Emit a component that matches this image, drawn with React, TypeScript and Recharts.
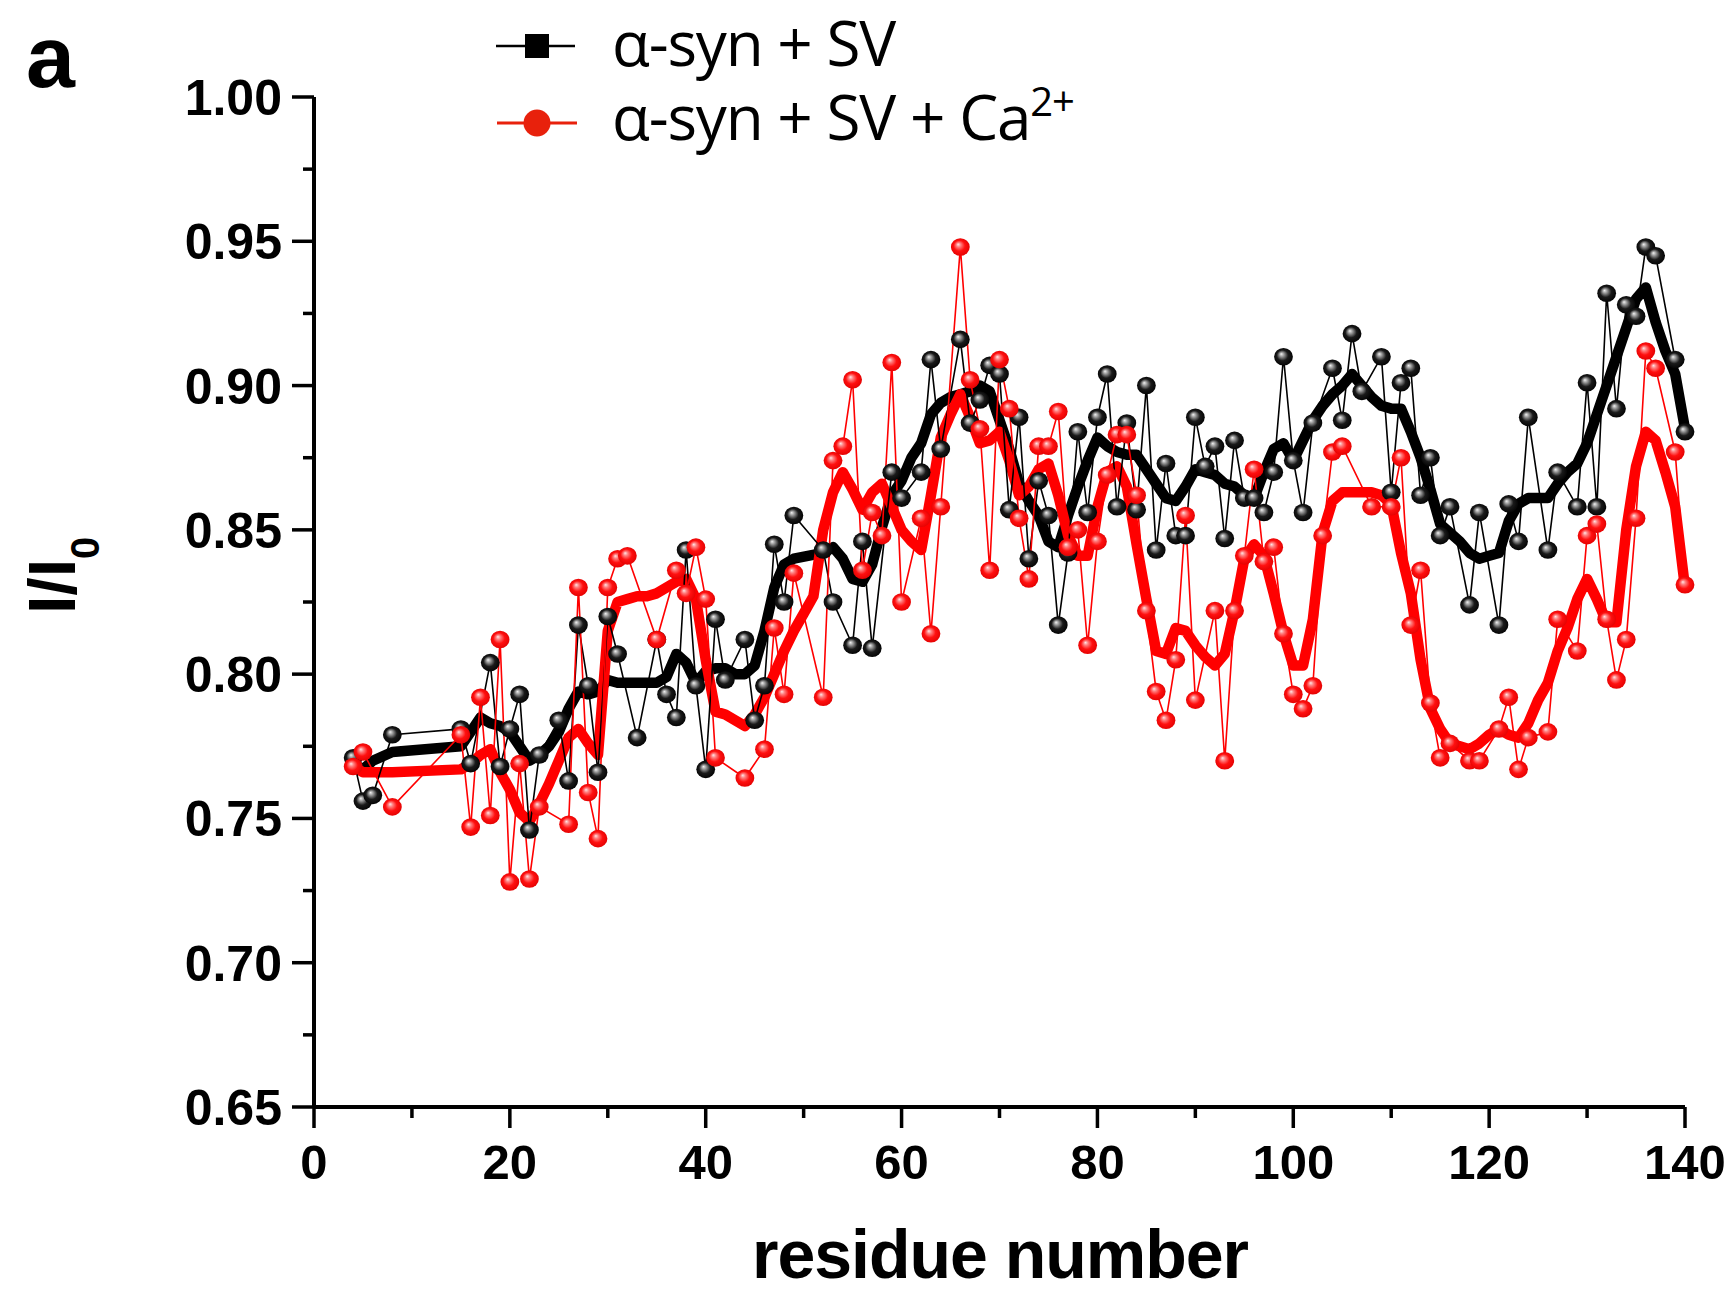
import { ComposedChart, Line, XAxis, YAxis } from 'recharts'

// raw points, alpha-syn + SV (black)
const svRes = [4, 5, 6, 8, 15, 16, 18, 19, 20, 21, 22, 23, 25, 26, 27, 28, 29, 30, 31, 33, 35, 36, 37, 38, 39, 40, 41, 42, 44, 45, 46, 47, 48, 49, 52, 53, 55, 56, 57, 59, 60, 62, 63, 64, 66, 67, 68, 69, 70, 71, 72, 73, 74, 75, 76, 77, 78, 79, 80, 81, 82, 83, 84, 85, 86, 87, 88, 89, 90, 91, 92, 93, 94, 95, 96, 97, 98, 99, 100, 101, 102, 104, 105, 106, 107, 109, 110, 111, 112, 113, 114, 115, 116, 118, 119, 121, 122, 123, 124, 126, 127, 129, 130, 131, 132, 133, 134, 135, 136, 137, 139, 140]
const svVal = [0.771, 0.756, 0.758, 0.779, 0.781, 0.769, 0.804, 0.768, 0.781, 0.793, 0.746, 0.772, 0.784, 0.763, 0.817, 0.796, 0.766, 0.820, 0.807, 0.778, 0.812, 0.793, 0.785, 0.843, 0.796, 0.767, 0.819, 0.798, 0.812, 0.784, 0.796, 0.845, 0.825, 0.855, 0.843, 0.825, 0.810, 0.846, 0.809, 0.870, 0.861, 0.870, 0.909, 0.878, 0.916, 0.887, 0.895, 0.907, 0.904, 0.857, 0.889, 0.840, 0.867, 0.855, 0.817, 0.842, 0.884, 0.856, 0.889, 0.904, 0.858, 0.887, 0.857, 0.900, 0.843, 0.873, 0.848, 0.848, 0.889, 0.872, 0.879, 0.847, 0.881, 0.861, 0.861, 0.856, 0.870, 0.910, 0.874, 0.856, 0.887, 0.906, 0.888, 0.918, 0.898, 0.910, 0.863, 0.901, 0.906, 0.862, 0.875, 0.848, 0.858, 0.824, 0.856, 0.817, 0.859, 0.846, 0.889, 0.843, 0.870, 0.858, 0.901, 0.858, 0.932, 0.892, 0.928, 0.924, 0.948, 0.945, 0.909, 0.884]

// raw points, alpha-syn + SV + Ca2+ (red)
const caRes = [4, 5, 8, 15, 16, 17, 18, 19, 20, 21, 22, 23, 26, 27, 28, 29, 30, 31, 32, 35, 37, 38, 39, 40, 41, 44, 46, 47, 48, 49, 52, 53, 54, 55, 56, 57, 58, 59, 60, 62, 63, 64, 66, 67, 68, 69, 70, 71, 72, 73, 74, 75, 76, 77, 78, 79, 80, 81, 82, 83, 84, 85, 86, 87, 88, 89, 90, 92, 93, 94, 95, 96, 97, 98, 99, 100, 101, 102, 103, 104, 105, 108, 110, 111, 112, 113, 114, 115, 116, 118, 119, 121, 122, 123, 124, 126, 127, 129, 130, 131, 132, 133, 134, 135, 136, 137, 139, 140]
const caVal = [0.768, 0.773, 0.754, 0.779, 0.747, 0.792, 0.751, 0.812, 0.728, 0.769, 0.729, 0.754, 0.748, 0.830, 0.759, 0.743, 0.830, 0.840, 0.841, 0.812, 0.836, 0.828, 0.844, 0.826, 0.771, 0.764, 0.774, 0.816, 0.793, 0.835, 0.792, 0.874, 0.879, 0.902, 0.836, 0.856, 0.848, 0.908, 0.825, 0.854, 0.814, 0.858, 0.948, 0.902, 0.885, 0.836, 0.909, 0.892, 0.854, 0.833, 0.879, 0.879, 0.891, 0.844, 0.850, 0.810, 0.846, 0.869, 0.883, 0.883, 0.862, 0.822, 0.794, 0.784, 0.805, 0.855, 0.791, 0.822, 0.770, 0.822, 0.841, 0.871, 0.839, 0.844, 0.814, 0.793, 0.788, 0.796, 0.848, 0.877, 0.879, 0.858, 0.858, 0.875, 0.817, 0.836, 0.790, 0.771, 0.776, 0.770, 0.770, 0.781, 0.792, 0.767, 0.778, 0.780, 0.819, 0.808, 0.848, 0.852, 0.819, 0.798, 0.812, 0.854, 0.912, 0.906, 0.877, 0.831]

// smoothed traces (thick lines)
const svSmRes = [4, 5, 6, 8, 15, 16, 17, 18, 19, 20, 21, 22, 23, 24, 25, 26, 27, 28, 29, 30, 31, 33, 35, 36, 37, 38, 39, 40, 41, 42, 43, 44, 45, 46, 47, 48, 49, 52, 53, 54, 55, 56, 57, 58, 59, 60, 61, 62, 63, 64, 65, 66, 67, 68, 69, 70, 71, 72, 73, 74, 75, 76, 77, 78, 79, 80, 81, 82, 83, 84, 85, 86, 87, 88, 89, 90, 91, 92, 93, 94, 95, 96, 97, 98, 99, 100, 101, 102, 103, 104, 105, 106, 107, 108, 109, 110, 111, 112, 113, 114, 115, 116, 117, 118, 119, 120, 121, 122, 123, 124, 125, 126, 127, 128, 129, 130, 131, 132, 133, 134, 135, 136, 137, 138, 139, 140]
const svSmVal = [0.769, 0.767, 0.770, 0.773, 0.775, 0.780, 0.785, 0.783, 0.782, 0.780, 0.775, 0.770, 0.772, 0.775, 0.780, 0.788, 0.794, 0.793, 0.794, 0.798, 0.797, 0.797, 0.797, 0.799, 0.807, 0.804, 0.797, 0.801, 0.802, 0.802, 0.800, 0.800, 0.803, 0.815, 0.830, 0.838, 0.840, 0.842, 0.844, 0.840, 0.833, 0.832, 0.838, 0.851, 0.862, 0.867, 0.875, 0.880, 0.890, 0.894, 0.896, 0.897, 0.898, 0.900, 0.898, 0.888, 0.878, 0.866, 0.860, 0.855, 0.846, 0.844, 0.855, 0.865, 0.874, 0.882, 0.879, 0.877, 0.876, 0.876, 0.871, 0.866, 0.861, 0.860, 0.865, 0.871, 0.870, 0.869, 0.866, 0.865, 0.862, 0.861, 0.870, 0.878, 0.880, 0.874, 0.881, 0.888, 0.893, 0.897, 0.900, 0.904, 0.900, 0.896, 0.893, 0.892, 0.892, 0.884, 0.875, 0.864, 0.852, 0.849, 0.846, 0.842, 0.840, 0.841, 0.842, 0.853, 0.859, 0.861, 0.861, 0.861, 0.866, 0.870, 0.873, 0.880, 0.890, 0.900, 0.910, 0.920, 0.930, 0.934, 0.922, 0.912, 0.904, 0.885]

const caSmRes = [4, 5, 8, 15, 16, 17, 18, 19, 20, 21, 22, 23, 24, 25, 26, 27, 28, 29, 30, 31, 32, 33, 34, 35, 36, 37, 38, 39, 40, 41, 42, 43, 44, 45, 46, 47, 48, 49, 50, 51, 52, 53, 54, 55, 56, 57, 58, 59, 60, 61, 62, 63, 64, 65, 66, 67, 68, 69, 70, 71, 72, 73, 74, 75, 76, 77, 78, 79, 80, 81, 82, 83, 84, 85, 86, 87, 88, 89, 90, 91, 92, 93, 94, 95, 96, 97, 98, 99, 100, 101, 102, 103, 104, 105, 106, 107, 108, 109, 110, 111, 112, 113, 114, 115, 116, 117, 118, 119, 120, 121, 122, 123, 124, 125, 126, 127, 128, 129, 130, 131, 132, 133, 134, 135, 136, 137, 138, 139, 140]
const caSmVal = [0.768, 0.766, 0.766, 0.767, 0.769, 0.772, 0.774, 0.766, 0.760, 0.752, 0.749, 0.755, 0.762, 0.770, 0.778, 0.781, 0.776, 0.772, 0.815, 0.825, 0.826, 0.827, 0.827, 0.828, 0.830, 0.832, 0.833, 0.826, 0.805, 0.787, 0.786, 0.784, 0.782, 0.786, 0.792, 0.800, 0.808, 0.815, 0.821, 0.827, 0.850, 0.863, 0.870, 0.864, 0.857, 0.863, 0.866, 0.858, 0.850, 0.846, 0.843, 0.862, 0.882, 0.890, 0.897, 0.889, 0.880, 0.881, 0.884, 0.874, 0.862, 0.865, 0.871, 0.873, 0.862, 0.848, 0.841, 0.841, 0.858, 0.870, 0.872, 0.865, 0.845, 0.826, 0.808, 0.807, 0.816, 0.815, 0.810, 0.806, 0.803, 0.807, 0.822, 0.840, 0.845, 0.841, 0.828, 0.814, 0.803, 0.803, 0.819, 0.849, 0.860, 0.863, 0.863, 0.863, 0.863, 0.862, 0.859, 0.842, 0.828, 0.805, 0.788, 0.781, 0.776, 0.775, 0.774, 0.776, 0.779, 0.781, 0.779, 0.778, 0.783, 0.791, 0.797, 0.808, 0.816, 0.826, 0.833, 0.826, 0.818, 0.818, 0.850, 0.872, 0.884, 0.881, 0.870, 0.858, 0.830]

const xTicks = [0, 10, 20, 30, 40, 50, 60, 70, 80, 90, 100, 110, 120, 130, 140]
const yTicks = [0.65, 0.675, 0.7, 0.725, 0.75, 0.775, 0.8, 0.825, 0.85, 0.875, 0.9, 0.925, 0.95, 0.975, 1.0]

const toPts = (rs: number[], vs: number[]) => rs.map((r, i) => ({ r, v: vs[i] }))

const svPts = toPts(svRes, svVal)
const caPts = toPts(caRes, caVal)
const svSmooth = toPts(svSmRes, svSmVal)
const caSmooth = toPts(caSmRes, caSmVal)

const W = 1736
const H = 1292
const boldFont = '"Liberation Sans", Arial, sans-serif'
const legendFont = '"Open Sans", "DejaVu Sans", sans-serif'

function Ball(props: any) {
  const { cx, cy, grad } = props
  if (cx == null || cy == null) return null
  return <ellipse cx={cx} cy={cy} rx={9.4} ry={8.8} fill={`url(#${grad})`} />
}

function YTick(props: any) {
  const { x, y, payload } = props
  const v = payload.value
  const major = Math.abs(v * 20 - Math.round(v * 20)) < 1e-6
  return (
    <g>
      <line x1={x - (major ? 22 : 11)} x2={x} y1={y} y2={y} stroke="#000" strokeWidth={3.5} />
      {major && (
        <text x={x - 32} y={y + 18} textAnchor="end" fontFamily={boldFont} fontWeight="bold" fontSize={50} fill="#000">
          {v.toFixed(2)}
        </text>
      )}
    </g>
  )
}

function XTick(props: any) {
  const { x, y, payload } = props
  const v = payload.value
  const major = v % 20 === 0
  return (
    <g>
      <line x1={x} x2={x} y1={y} y2={y + (major ? 21 : 11)} stroke="#000" strokeWidth={3.5} />
      {major && (
        <text x={x} y={y + 72} textAnchor="middle" fontFamily={boldFont} fontWeight="bold" fontSize={49} fill="#000">
          {v}
        </text>
      )}
    </g>
  )
}

export default function App() {
  return (
    <div style={{ position: 'absolute', left: 0, top: 0, width: W, height: H, background: '#fff' }}>
      <ComposedChart width={W} height={H} margin={{ top: 97, right: 51, bottom: 0, left: 0 }}>
        <defs>
          <radialGradient id="ballBlack" cx="50%" cy="50%" r="55%" fx="38%" fy="34%">
            <stop offset="0%" stopColor="#f2f2f2" />
            <stop offset="22%" stopColor="#9a9a9a" />
            <stop offset="55%" stopColor="#1a1a1a" />
            <stop offset="100%" stopColor="#000" />
          </radialGradient>
          <radialGradient id="ballRed" cx="50%" cy="50%" r="55%" fx="38%" fy="34%">
            <stop offset="0%" stopColor="#ffe6e6" />
            <stop offset="22%" stopColor="#ff8080" />
            <stop offset="55%" stopColor="#ff1010" />
            <stop offset="100%" stopColor="#e00000" />
          </radialGradient>
        </defs>
        <XAxis
          type="number"
          dataKey="r"
          domain={[0, 140]}
          ticks={xTicks}
          interval={0}
          height={185}
          tickLine={false}
          tickSize={0}
          tickMargin={0}
          axisLine={{ stroke: '#000', strokeWidth: 4 }}
          tick={XTick}
        />
        <YAxis
          type="number"
          dataKey="v"
          domain={[0.65, 1.0]}
          ticks={yTicks}
          interval={0}
          width={314}
          tickLine={false}
          tickSize={0}
          tickMargin={0}
          axisLine={{ stroke: '#000', strokeWidth: 4 }}
          tick={YTick}
        />
        <Line data={svSmooth} dataKey="v" stroke="#000" strokeWidth={10.5} strokeLinejoin="round" dot={false} isAnimationActive={false} />
        <Line data={caSmooth} dataKey="v" stroke="#ff0000" strokeWidth={10.5} strokeLinejoin="round" dot={false} isAnimationActive={false} />
        <Line
          data={svPts}
          dataKey="v"
          stroke="#000"
          strokeWidth={1.6}
          dot={(p: any) => <Ball key={`sv${p.index}`} cx={p.cx} cy={p.cy} grad="ballBlack" />}
          isAnimationActive={false}
        />
        <Line
          data={caPts}
          dataKey="v"
          stroke="#ff0000"
          strokeWidth={1.6}
          dot={(p: any) => <Ball key={`ca${p.index}`} cx={p.cx} cy={p.cy} grad="ballRed" />}
          isAnimationActive={false}
        />
      </ComposedChart>

      <svg width={W} height={H} style={{ position: 'absolute', left: 0, top: 0, pointerEvents: 'none' }}>
        <text x={26} y={87} fontFamily={boldFont} fontWeight="bold" fontSize={88} fill="#000">a</text>

        <text transform="rotate(-90)" x={-614} y={75} fontFamily={boldFont} fontWeight="bold" fontSize={66} fill="#000">
          I/I<tspan fontSize={40} dy={24}>0</tspan>
        </text>

        <text x={1000} y={1278} textAnchor="middle" fontFamily={boldFont} fontWeight="bold" fontSize={68} letterSpacing={-1} fill="#000">
          residue number
        </text>

        <line x1={496} x2={575} y1={46} y2={46} stroke="#000" strokeWidth={2.5} />
        <rect x={525} y={34} width={24} height={24} fill="#000" />
        <text x={612} y={66} fontFamily={legendFont} fontSize={62} letterSpacing={-1.2} fill="#000">α-syn + SV</text>

        <line x1={497} x2={577} y1={123} y2={123} stroke="#e8210c" strokeWidth={3} />
        <circle cx={537} cy={123} r={13.5} fill="#e8210c" />
        <text x={612} y={140} fontFamily={legendFont} fontSize={62} letterSpacing={-1.2} fill="#000">
          α-syn + SV + Ca<tspan fontSize={40} dy={-24}>2+</tspan>
        </text>
      </svg>
    </div>
  )
}
